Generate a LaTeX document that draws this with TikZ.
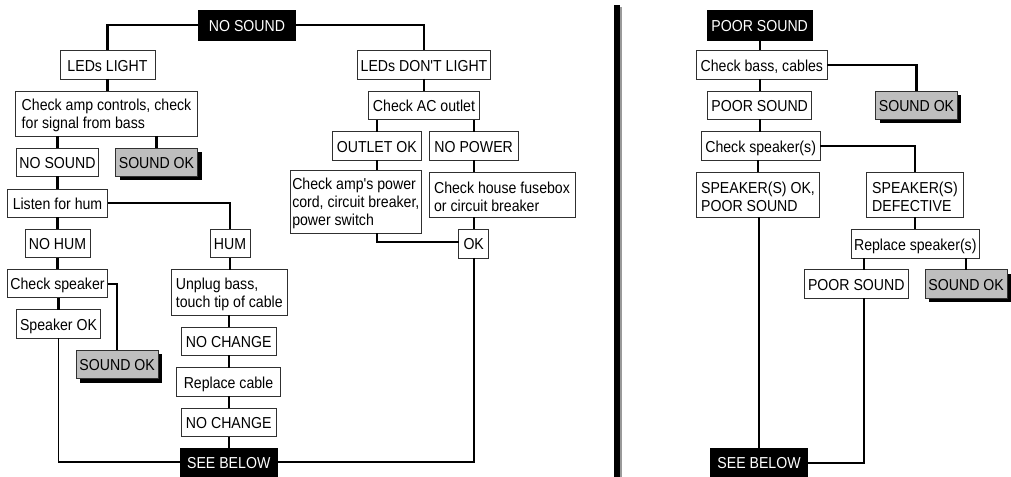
\documentclass[tikz,border=0pt]{standalone}
\usepackage{fontspec}
\newfontfamily\boxfont[FakeStretch=0.89]{Liberation Sans}
\usetikzlibrary{shadows}
\definecolor{boxedge}{HTML}{303030}
\definecolor{okgray}{HTML}{BEBEBE}
\definecolor{dividerside}{HTML}{9A9A9A}
\tikzset{
  flowbox/.style={draw=boxedge,line width=0.6pt,fill=white,inner sep=0pt,outer sep=0pt,align=left,text=black,
    font=\boxfont\fontsize{11.9}{13.4}\selectfont},
  one/.style={text height=10.4pt,text depth=1.0pt},
  plainbox/.style={flowbox,one},
  twobox/.style={flowbox},
  startbox/.style={flowbox,one,fill=black,draw=black,text=white},
  okbox/.style={flowbox,one,fill=okgray,general shadow={fill=black,shadow xshift=3pt,shadow yshift=-3pt}},
  link/.style={draw=black,line width=1.6pt},
  longlink/.style={draw=black,line width=1.35pt},
}
\newcommand{\lowr}{\rule{0pt}{11.5pt}}
\newcommand{\bx}[7][]{%
  \pgfmathsetmacro{\bxw}{(#5-#3)*0.75}%
  \pgfmathsetmacro{\bxh}{(#6-#4)*0.75}%
  \pgfmathsetmacro{\bxcx}{(#3+#5)/2}%
  \pgfmathsetmacro{\bxcy}{(#4+#6)/2}%
  \node[#1,minimum width=\bxw pt,minimum height=\bxh pt] (#2) at (\bxcx,\bxcy) {#7};}
\begin{document}
\begin{tikzpicture}[x=0.75pt,y=-0.75pt]
\useasboundingbox (0,0) rectangle (1011,477);
% left tree
\bx[startbox]{nosound}{198.5}{10}{295.5}{40}{NO SOUND}
\bx[plainbox]{leds}{60}{50.5}{155}{79}{LEDs LIGHT}
\bx[twobox]{ampctl}{15.5}{91}{197.5}{136}{\lowr Check amp controls, check\\for signal from bass}
\bx[plainbox]{nosoundb}{16.5}{148.5}{98.5}{176.5}{NO SOUND}
\bx[okbox]{oka}{115.5}{148.5}{197.5}{176.5}{SOUND OK}
\bx[plainbox]{listen}{7.5}{189}{107.5}{217.5}{Listen for hum}
\bx[plainbox]{nohum}{25}{229.5}{90}{257.7}{NO HUM}
\bx[plainbox]{hum}{210}{229.5}{250}{257.7}{HUM}
\bx[plainbox]{chkspk}{7.5}{269.5}{107.5}{297.7}{Check speaker}
\bx[plainbox]{spkok}{16.5}{309.7}{100.5}{338.3}{Speaker OK}
\bx[okbox]{okb}{76.3}{350.3}{158}{378.7}{SOUND OK}
\bx[twobox]{unplug}{171}{269.7}{287.5}{315}{\lowr Unplug bass,\\touch tip of cable}
\bx[plainbox]{nochangea}{181}{327}{276.5}{355.3}{NO CHANGE}
\bx[plainbox]{replcable}{176.5}{367.7}{280.5}{396.3}{Replace cable}
\bx[plainbox]{nochangeb}{181}{408.3}{276.5}{436.7}{NO CHANGE}
\bx[startbox]{seebelowa}{180.5}{448}{277}{477}{SEE BELOW}
% middle tree
\bx[plainbox]{ledsno}{357.7}{50.5}{490.3}{79}{LEDs DON'T LIGHT}
\bx[plainbox]{acout}{368.7}{91}{479.3}{119.7}{Check AC outlet}
\bx[plainbox]{outok}{332.7}{131.7}{421}{160.3}{OUTLET OK}
\bx[plainbox]{nopower}{429.3}{131.7}{518}{160.3}{NO POWER}
\bx[twobox]{ampcord}{290}{170}{421.7}{233.3}{\lowr Check amp's power\\cord, circuit breaker,\\power switch}
\bx[twobox]{fusebox}{429}{172.3}{575}{217.3}{\lowr Check house fusebox\\or circuit breaker}
\bx[plainbox]{okc}{458.7}{229.3}{488.7}{258}{OK}
% right tree
\bx[startbox]{poor}{707}{10}{812.3}{40}{POOR SOUND}
\bx[plainbox]{chkbass}{696.7}{50.5}{827}{79}{Check bass, cables}
\bx[plainbox]{poorb}{707.7}{91}{811.7}{119.3}{POOR SOUND}
\bx[okbox]{okd}{875.7}{91}{957.3}{119.3}{SOUND OK}
\bx[plainbox]{chkspks}{701}{131.7}{820.3}{160.3}{Check speaker(s)}
\bx[twobox]{spksok}{696.7}{172.3}{819.3}{217.3}{\lowr SPEAKER(S) OK,\\POOR SOUND}
\bx[twobox]{spkdef}{866.7}{172.3}{963.3}{217.3}{\lowr SPEAKER(S)\\DEFECTIVE}
\bx[plainbox]{replspk}{851.3}{229.3}{979.3}{258.3}{Replace speaker(s)}
\bx[plainbox]{poorc}{804.3}{269.7}{908.3}{298.3}{POOR SOUND}
\bx[okbox]{oke}{925.3}{269.7}{1007}{298}{SOUND OK}
\bx[startbox]{seebelowb}{710.7}{448}{807.3}{477}{SEE BELOW}
% connectors, left tree
\draw[link] (nosound.west) -| (leds.north);
\draw[link] (nosound.east) -| (ledsno.north);
\draw[link] (leds.south) -- (ampctl.north -| leds.south);
\draw[link] (ampctl.south -| nosoundb.north) -- (nosoundb.north);
\draw[link] (ampctl.south -| oka.north) -- (oka.north);
\draw[link] (nosoundb.south) -- (listen.north -| nosoundb.south);
\draw[link] (listen.south -| nohum.north) -- (nohum.north);
\draw[link] (listen.east) -| (hum.north);
\draw[link] (nohum.south) -- (chkspk.north -| nohum.south);
\draw[link] (chkspk.south -| spkok.north) -- (spkok.north);
\draw[link] (chkspk.east) -| (okb.north);
\draw[link] (hum.south) -- (unplug.north -| hum.south);
\draw[link] (unplug.south -| nochangea.north) -- (nochangea.north);
\draw[link] (nochangea.south) -- (replcable.north -| nochangea.south);
\draw[link] (replcable.south -| nochangeb.north) -- (nochangeb.north);
\draw[link] (nochangeb.south) -- (seebelowa.north -| nochangeb.south);
\draw[longlink] (spkok.south) |- (seebelowa.west |- 0,462.3) ;
\draw[longlink] (okc.south) |- (seebelowa.east |- 0,462.3);
% connectors, middle tree
\draw[link] (ledsno.south) -- (acout.north -| ledsno.south);
\draw[link] (acout.south -| outok.north) -- (outok.north);
\draw[link] (acout.south -| nopower.north) -- (nopower.north);
\draw[link] (outok.south) -- (ampcord.north -| outok.south);
\draw[link] (nopower.south) -- (fusebox.north -| nopower.south);
\draw[link] (fusebox.south -| okc.north) -- (okc.north);
\draw[link] (ampcord.south -| outok.south) |- (okc.west |- 0,242.3);
% connectors, right tree
\draw[link] (poor.south) -- (chkbass.north -| poor.south);
\draw[link] (chkbass.south -| poorb.north) -- (poorb.north);
\draw[link] (chkbass.east) -| (okd.north);
\draw[link] (poorb.south) -- (chkspks.north -| poorb.south);
\draw[link] (chkspks.south -| spksok.north) -- (spksok.north);
\draw[link] (chkspks.east) -| (spkdef.north);
\draw[link] (spkdef.south) -- (replspk.north -| spkdef.south);
\draw[link] (replspk.south -| oke.north) -- (oke.north);
\draw[longlink] (spksok.south -| seebelowb.north) -- (seebelowb.north);
\coordinate (poordrop) at (863.7,298.3);
\coordinate (poorup) at (863.7,258.3);
\draw[link] (poorup) -- (poorup |- poorc.north);
\draw[longlink] (poordrop) |- (seebelowb.east |- 0,463.3);
% divider
\fill[dividerside] (620,7) rectangle (622,477);
\fill[black] (614,5) rectangle (620,477);
\end{tikzpicture}
\end{document}
